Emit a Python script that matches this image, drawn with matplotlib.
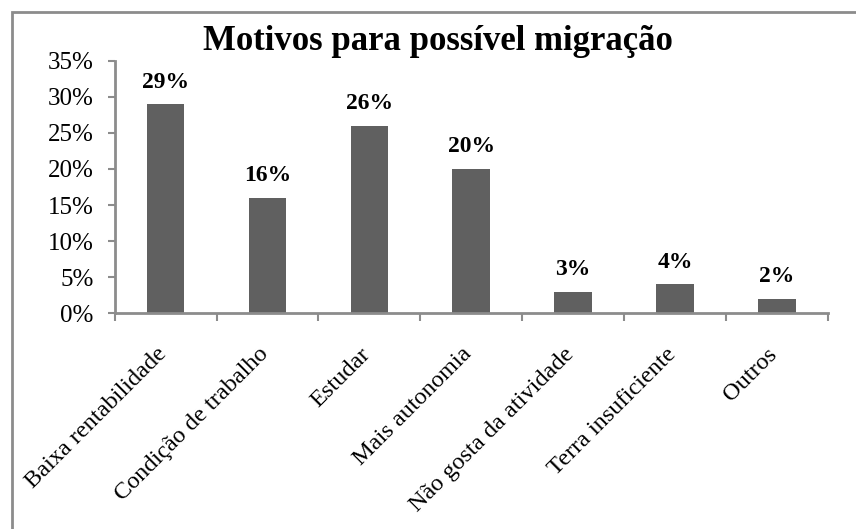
import matplotlib.pyplot as plt
from matplotlib.patches import Rectangle
from matplotlib.ticker import FixedLocator, PercentFormatter
from matplotlib.transforms import ScaledTranslation

# ------------------------------------------------------------
# Data
# ------------------------------------------------------------

categories = [
    "Baixa rentabilidade",
    "Condição de trabalho",
    "Estudar",
    "Mais autonomia",
    "Não gosta da atividade",
    "Terra insuficiente",
    "Outros",
]
values = [29, 16, 26, 20, 3, 4, 2]
y_ticks = [0, 5, 10, 15, 20, 25, 30, 35]

title = "Motivos para possível migração"

# ------------------------------------------------------------
# Style
# ------------------------------------------------------------

plt.rcParams["font.family"] = ["Liberation Serif", "DejaVu Serif"]

bar_color = "#606060"
axis_color = "#8c8c8c"

fig = plt.figure(figsize=(8.56, 5.29), dpi=100)
ax = fig.add_axes([0.134, 0.408, 0.833, 0.477])

x = list(range(len(categories)))
ax.bar(x, values, width=0.37, color=bar_color)

for xi, v in zip(x, values):
    ax.text(xi, v + 1.6, f"{v}%", ha="center", va="bottom",
            fontsize=17, fontweight="bold")

ax.set_xlim(-0.5, len(categories) - 0.5)
ax.set_ylim(0, 35)
ax.set_yticks(y_ticks)
ax.yaxis.set_major_formatter(PercentFormatter(decimals=0))
ax.tick_params(axis="y", labelsize=18, length=5, width=1.5,
               color=axis_color, pad=10)

# category ticks at the boundaries, labels centred under the bars
ax.set_xticks(x)
ax.set_xticklabels(categories, rotation=45, ha="right",
                   rotation_mode="anchor", fontsize=17.5)
ax.tick_params(axis="x", which="major", length=0, pad=22)
ax.xaxis.set_minor_locator(FixedLocator([i - 0.5 for i in range(len(categories) + 1)]))
ax.tick_params(axis="x", which="minor", length=6, width=1.5, color=axis_color)

# nudge the rotated labels a little to the left
shift = ScaledTranslation(-10 / 100, 0, fig.dpi_scale_trans)
for lbl in ax.get_xticklabels():
    lbl.set_transform(lbl.get_transform() + shift)

for side in ["top", "right"]:
    ax.spines[side].set_visible(False)
for side in ["left", "bottom"]:
    ax.spines[side].set_color(axis_color)
    ax.spines[side].set_linewidth(2)

fig.text(0.512, 0.921, title, ha="center", va="center",
         fontsize=25, fontweight="bold")

# chart frame (right and bottom edges fall outside the picture)
fig.patches.append(Rectangle((0.014, -0.05), 1.05, 1.027,
                             transform=fig.transFigure, fill=False,
                             edgecolor=axis_color, linewidth=2))

fig.savefig("out.png", dpi=100)
